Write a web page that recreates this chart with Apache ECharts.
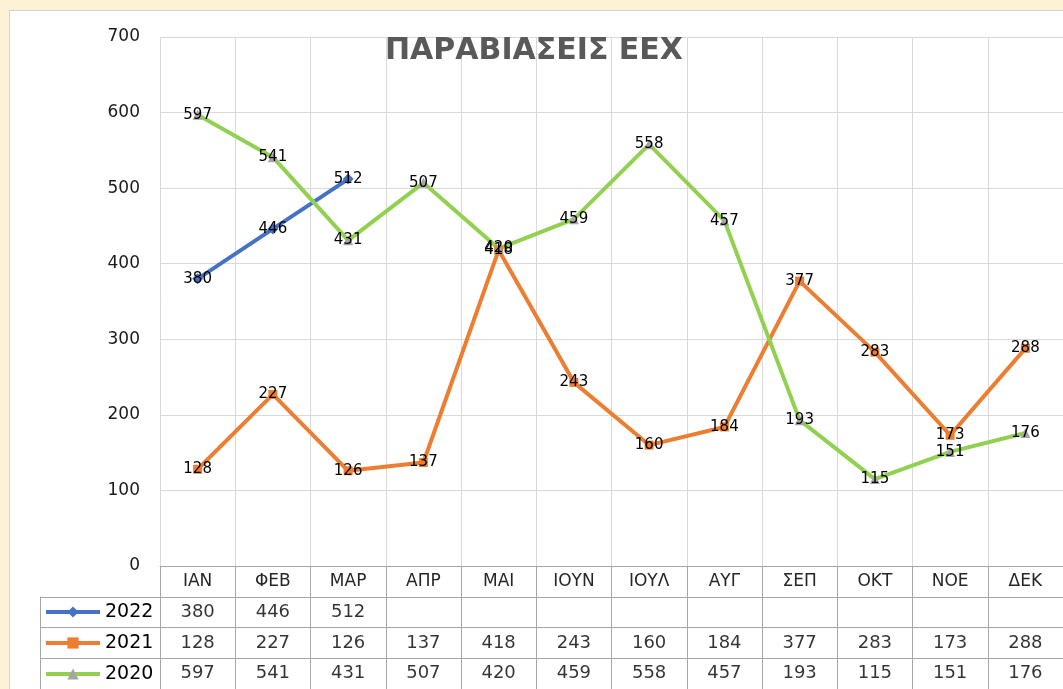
<!DOCTYPE html>
<html><head><meta charset="utf-8">
<script src="https://cdn.jsdelivr.net/npm/echarts@6/dist/echarts.min.js"></script>
<style>
html,body{margin:0;padding:0;width:1063px;height:689px;overflow:hidden;background:#fdf1d6;}
#paper{position:absolute;left:9px;top:10px;width:1100px;height:720px;background:#fff;border:1px solid #d4d4d4;}
#chart{position:absolute;left:0;top:0;width:1063px;height:689px;}
</style></head>
<body><div id="paper"></div><div id="chart"></div>
<script>
const months = ['ΙΑΝ','ΦΕΒ','ΜΑΡ','ΑΠΡ','ΜΑΙ','ΙΟΥΝ','ΙΟΥΛ','ΑΥΓ','ΣΕΠ','ΟΚΤ','ΝΟΕ','ΔΕΚ'];
const years = ['2022','2021','2020'];
const v2022 = [380,446,512,null,null,null,null,null,null,null,null,null];
const v2021 = [128,227,126,137,418,243,160,184,377,283,173,288];
const v2020 = [597,541,431,507,420,459,558,457,193,115,151,176];
const yTicks = [0,100,200,300,400,500,600,700];
const titleText = 'ΠΑΡΑΒΙΑΣΕΙΣ ΕΕΧ';

const seriesValues = {'2022': v2022, '2021': v2021, '2020': v2020};
const tableData = [];
years.forEach(y => seriesValues[y].forEach((v, i) => { if (v !== null) tableData.push([i, y, v]); }));

const border = '#a6a6a6';
const gridc = '#d9d9d9';
const font = 'DejaVu Sans';

function lineSeries(name, data, color, symbol, symColor) {
  return {
    name: name, type: 'line', data: data, xAxisIndex: 0, yAxisIndex: 0,
    symbol: symbol, symbolSize: symbol === 'diamond' ? 11 : (symbol === 'rect' ? 9 : 10),
    lineStyle: {color: color, width: 4},
    itemStyle: {color: symColor},
    label: {show: true, position: 'inside', color: '#000', fontFamily: font, fontSize: 15},
    emphasis: {disabled: true}, animation: false, connectNulls: false
  };
}

const chart = echarts.init(document.getElementById('chart'), null, {renderer: 'canvas'});
chart.setOption({
  backgroundColor: 'transparent',
  animation: false,
  title: {text: titleText, left: 380, top: 31,
    textStyle: {fontFamily: font, fontWeight: 'bold', fontSize: 30, color: '#595959'}},
  legend: {
    data: years, orient: 'vertical', left: 44, top: 602, padding: 0,
    itemWidth: 54, itemHeight: 14, itemGap: 11,
    lineStyle: {width: 4},
    textStyle: {fontFamily: font, fontSize: 19, color: '#000', lineHeight: 20},
    selectedMode: false
  },
  grid: [
    {left: 160, top: 37, width: 912, height: 529},
    {left: 160, top: 597, width: 912, height: 93}
  ],
  xAxis: [
    {type: 'category', gridIndex: 0, data: months, boundaryGap: true,
      axisLine: {show: true, lineStyle: {color: border, width: 1}},
      axisTick: {show: true, length: 31, lineStyle: {color: border}},
      axisLabel: {margin: 7, fontFamily: font, fontSize: 17, color: '#262626', interval: 0},
      splitLine: {show: true, lineStyle: {color: gridc, width: 1}}},
    {type: 'category', gridIndex: 1, data: months, boundaryGap: true, position: 'top',
      axisLine: {show: true, lineStyle: {color: border}},
      axisTick: {show: false}, axisLabel: {show: false},
      splitLine: {show: true, lineStyle: {color: border}}}
  ],
  yAxis: [
    {type: 'value', gridIndex: 0, min: yTicks[0], max: yTicks[yTicks.length-1], interval: 100,
      axisLine: {show: false}, axisTick: {show: false},
      axisLabel: {margin: 20, fontFamily: font, fontSize: 17, color: '#1a1a1a'},
      splitLine: {show: true, lineStyle: {color: gridc, width: 1}}},
    {type: 'category', gridIndex: 1, data: ['2020','2021','2022'], boundaryGap: true,
      axisLine: {show: true, lineStyle: {color: border}},
      axisTick: {show: true, length: 120, lineStyle: {color: border}},
      axisLabel: {show: false},
      splitLine: {show: true, lineStyle: {color: border}}},
    {type: 'category', gridIndex: 1, data: ['2020','2021','2022'], offset: 120, position: 'left',
      axisLine: {show: true, lineStyle: {color: border}},
      axisTick: {show: false}, axisLabel: {show: false}, splitLine: {show: false}}
  ],
  series: [
    lineSeries('2022', v2022, '#4472c4', 'diamond', '#4472c4'),
    lineSeries('2021', v2021, '#ed7d31', 'rect', '#ed7d31'),
    lineSeries('2020', v2020, '#92d050', 'triangle', '#a5a5a5'),
    {type: 'scatter', xAxisIndex: 1, yAxisIndex: 1, data: tableData, symbolSize: 0,
      label: {show: true, position: 'inside', formatter: p => String(p.value[2]),
        fontFamily: font, fontSize: 18, color: '#000'},
      emphasis: {disabled: true}, silent: true}
  ]
});
</script></body></html>
